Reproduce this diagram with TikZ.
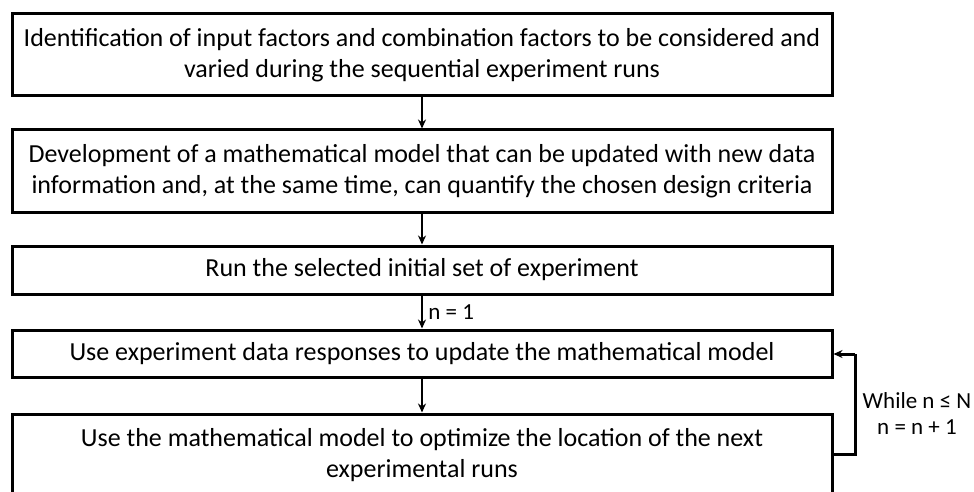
\documentclass[tikz,border=0pt]{standalone}
\usepackage{fontspec}
\setmainfont{Carlito}
\usetikzlibrary{arrows.meta}
\begin{document}
\begin{tikzpicture}[x=1pt,y=-1pt,
  stepbox/.style={draw,line width=3pt,minimum width=820pt,inner sep=0pt,align=center,
    font=\fontsize{26}{31}\selectfont,text=black},
  conn/.style={line width=2.2pt,-{Stealth[length=9pt,width=8pt]}},
  lbl/.style={font=\fontsize{23}{26}\selectfont,align=center,text=black}]
\useasboundingbox (0,0) rectangle (974,492);
\node[stepbox,minimum height=82pt] (b1) at (422,55) {Identification of input factors and combination factors to be considered and\\varied during the sequential experiment runs};
\node[stepbox,minimum height=82pt] (b2) at (422,171) {Development of a mathematical model that can be updated with new data\\information and, at the same time, can quantify the chosen design criteria};
\node[stepbox,minimum height=48pt] (b3) at (422,270) {Run the selected initial set of experiment};
\node[stepbox,minimum height=47pt] (b4) at (422,353.5) {Use experiment data responses to update the mathematical model};
\node[stepbox,minimum height=82pt] (b5) at (422,455) {Use the mathematical model to optimize the location of the next\\experimental runs};
\coordinate (c1) at (855,454);
\coordinate (c2) at (855,354);
\draw[conn] (b1) -- (b2);
\draw[conn] (b2) -- (b3);
\draw[conn] (b3) -- node[right,lbl,xshift=2pt] (l1) {n = 1} (b4);
\draw[conn] (b4) -- (b5);
\draw[line width=3pt] (b5.east |- c1) -- (c1) -- (c2);
\draw[conn,line width=3pt] (c2) -- (b4.east |- c2);
\node[lbl] (l2) at (917,414) {While n ≤ N\\n = n + 1};
\end{tikzpicture}
\end{document}
